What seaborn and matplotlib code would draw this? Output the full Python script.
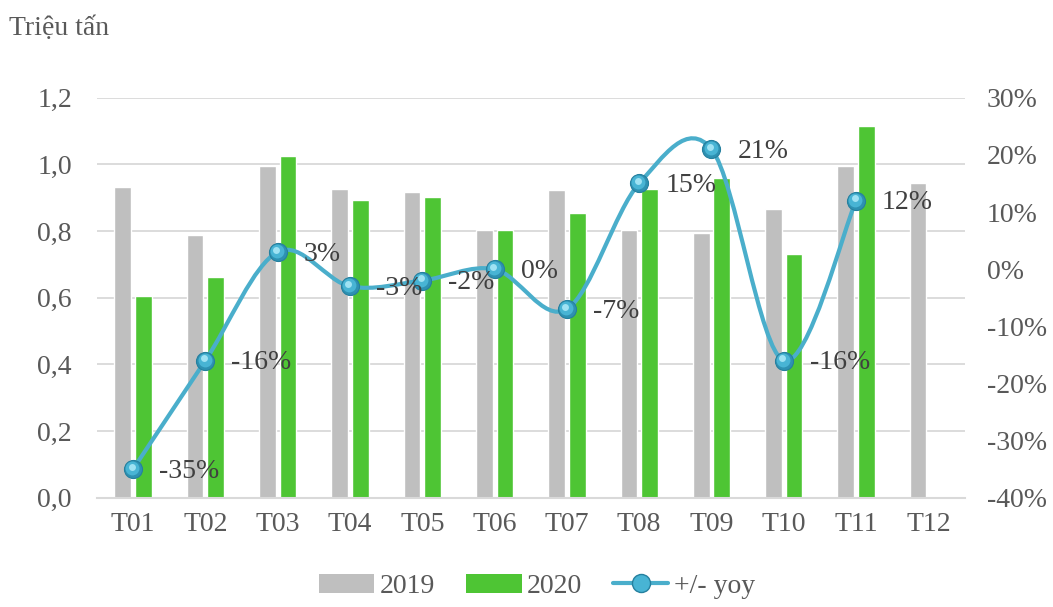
import numpy as np
import pandas as pd
import matplotlib
matplotlib.use("Agg")
import matplotlib.pyplot as plt
import matplotlib.transforms as mtransforms
from matplotlib.path import Path
from matplotlib.patches import PathPatch, Patch
from matplotlib.lines import Line2D
from matplotlib.ticker import FuncFormatter, FixedLocator
import seaborn as sns

months = ["T01", "T02", "T03", "T04", "T05", "T06", "T07", "T08", "T09", "T10", "T11", "T12"]
vol_2019 = [0.933, 0.789, 0.996, 0.927, 0.918, 0.804, 0.924, 0.804, 0.795, 0.867, 0.996, 0.945]
vol_2020 = [0.606, 0.663, 1.026, 0.894, 0.903, 0.804, 0.855, 0.927, 0.960, 0.732, 1.116, np.nan]
yoy_pct = [-35, -16, 3, -3, -2, 0, -7, 15, 21, -16, 12]

GRAY = "#bfbfbf"
GREEN = "#4ec534"
LINE = "#4aaecb"
TEXT = "#595959"
GRID = "#d9d9d9"
FS = 20

sns.set_theme(style="white")
plt.rcParams["font.family"] = ["Liberation Serif", "DejaVu Serif"]
plt.rcParams["text.color"] = TEXT

df = pd.DataFrame({
    "month": months * 2,
    "year": ["2019"] * len(months) + ["2020"] * len(months),
    "value": vol_2019 + vol_2020,
})

fig = plt.figure(figsize=(10.53, 6.07), dpi=100)
ax = fig.add_axes([0.092, 0.180, 0.824, 0.659])

sns.barplot(data=df, x="month", y="value", hue="year", order=months,
            palette={"2019": GRAY, "2020": GREEN}, width=0.57, gap=0.19,
            saturation=1, ax=ax, legend=False)

ax.set_xlim(-0.5, len(months) - 0.5)
ax.set_ylim(0, 1.2)
ax.yaxis.set_major_locator(FixedLocator(np.arange(0, 1.21, 0.2)))
ax.yaxis.set_major_formatter(FuncFormatter(lambda v, p: f"{v:.1f}".replace(".", ",")))
ax.grid(axis="y", color=GRID, lw=1.3)
ax.set_axisbelow(True)
for s in ["top", "left", "right"]:
    ax.spines[s].set_visible(False)
ax.spines["bottom"].set_color(GRID)
ax.spines["bottom"].set_linewidth(1.5)
ax.set_xlabel("")
ax.set_ylabel("")
ax.tick_params(axis="both", length=0, labelsize=FS, labelcolor=TEXT)
ax.tick_params(axis="x", pad=10)
ax.tick_params(axis="y", pad=18)

# year-on-year change on the secondary axis
ax2 = ax.twinx()
ax2.set_ylim(-40, 30)
ax2.yaxis.set_major_locator(FixedLocator(np.arange(-40, 31, 10)))
ax2.yaxis.set_major_formatter(FuncFormatter(lambda v, p: f"{v:.0f}%"))
ax2.tick_params(axis="y", length=0, labelsize=FS, labelcolor=TEXT, pad=16)
for s in ax2.spines.values():
    s.set_visible(False)

x = np.arange(len(yoy_pct), dtype=float)
y = np.array(yoy_pct, dtype=float)

# smoothed connecting curve (cubic Bezier segments, Catmull-Rom style handles)
verts = [(x[0], y[0])]
codes = [Path.MOVETO]
n = len(x)
for i in range(n - 1):
    xp, yp = (x[i - 1], y[i - 1]) if i > 0 else (x[i], y[i])
    xn2, yn2 = (x[i + 2], y[i + 2]) if i + 2 < n else (x[i + 1], y[i + 1])
    c1 = (x[i] + (x[i + 1] - xp) / 6, y[i] + (y[i + 1] - yp) / 6)
    c2 = (x[i + 1] - (xn2 - x[i]) / 6, y[i + 1] - (yn2 - y[i]) / 6)
    verts += [c1, c2, (x[i + 1], y[i + 1])]
    codes += [Path.CURVE4] * 3
ax2.add_patch(PathPatch(Path(verts, codes), facecolor="none", edgecolor=LINE,
                        lw=3, capstyle="round", zorder=3))

# spherical markers: shaded disc plus a small highlight
ax2.plot(x, y, ls="none", marker="o", ms=13, mfc="#2e91b2", mec="#25809f",
         mew=0.8, zorder=4)
sh = mtransforms.offset_copy(ax2.transData, fig=fig, x=-0.8, y=1.0, units="dots")
ax2.plot(x, y, ls="none", marker="o", ms=10, mfc="#48b4d4", mec="none",
         transform=sh, zorder=5)
hl = mtransforms.offset_copy(ax2.transData, fig=fig, x=-1.5, y=2.5, units="dots")
ax2.plot(x, y, ls="none", marker="o", ms=5, mfc="#9fe2f3", mec="none",
         transform=hl, zorder=6)

for xi, yi, v in zip(x, y, yoy_pct):
    ax2.annotate(f"{v}%", (xi, yi), xytext=(26, -2), textcoords="offset pixels",
                 ha="left", va="center", fontsize=FS, color="#404040", zorder=7)

fig.text(0.009, 0.953, "Triệu tấn", fontsize=FS, color=TEXT, ha="left", va="center")

handles = [
    Patch(facecolor=GRAY, edgecolor="none"),
    Patch(facecolor=GREEN, edgecolor="none"),
    Line2D([0], [0], color=LINE, lw=3, marker="o", ms=13, mfc="#48b4d4", mec="#25809f"),
]
fig.legend(handles, ["2019", "2020", "+/- yoy"], loc="lower center",
           bbox_to_anchor=(0.51, -0.028), ncol=3, frameon=False, fontsize=FS,
           handlelength=2.0, handleheight=0.7, columnspacing=1.1, handletextpad=0.2,
           labelcolor=TEXT)

fig.savefig("out.png", dpi=100)
